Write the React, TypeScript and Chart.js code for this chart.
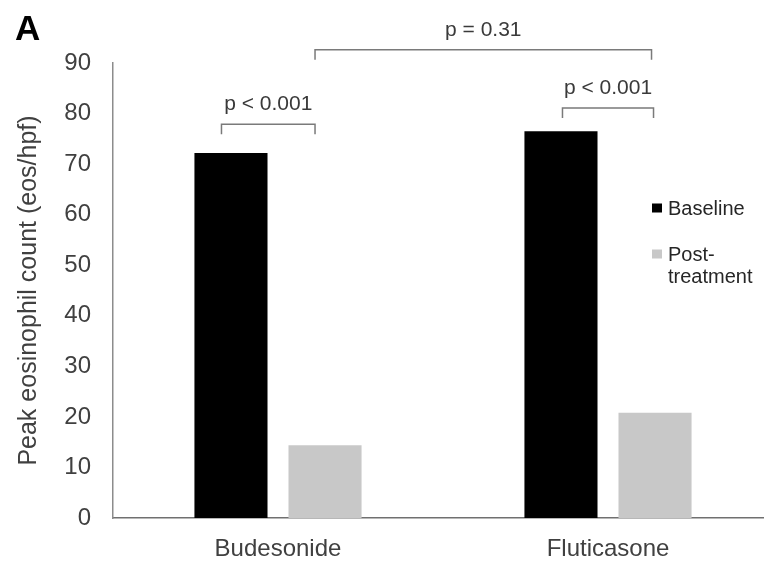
import React, { useEffect, useRef } from "react";
import { Chart, registerables } from "chart.js";

Chart.register(...registerables);

const categories = ["Budesonide", "Fluticasone"];
const seriesNames = ["Baseline", "Post-treatment"];
const baselineValues = [72.2, 76.5];
const postValues = [14.4, 20.8];
const yTicksMax = 90;
const yTickStep = 10;
const yTitle = "Peak eosinophil count (eos/hpf)";
const panelLabel = "A";

// significance brackets: [datasetIndex, categoryIndex] ends, level in data units
const pTexts = ["p < 0.001", "p = 0.31", "p < 0.001"];
const pLevels = [77.9, 92.6, 81.1];
const pFrom = [[0, 0], [1, 0], [0, 1]];
const pTo = [[1, 0], [1, 1], [1, 1]];

const FONT = "'Liberation Sans', Arial, Helvetica, sans-serif";

const overlayPlugin = {
  id: "overlay",
  afterDraw(chart: any) {
    const ctx = chart.ctx;
    const yScale = chart.scales.y;
    ctx.save();
    // panel label
    ctx.fillStyle = "#000";
    ctx.font = `bold 35px ${FONT}`;
    ctx.textAlign = "left";
    ctx.textBaseline = "alphabetic";
    ctx.fillText(panelLabel, 15, 40);

    // brackets
    const dxFrom = [-9.5, -10, 1.5];
    const dxTo = [-10, -3.5, -1.5];
    const drop = 10;
    ctx.strokeStyle = "#7a7a7a";
    ctx.lineWidth = 1.5;
    for (let i = 0; i < pTexts.length; i++) {
      const a = chart.getDatasetMeta(pFrom[i][0]).data[pFrom[i][1]];
      const b = chart.getDatasetMeta(pTo[i][0]).data[pTo[i][1]];
      const x1 = a.x + dxFrom[i];
      const x2 = b.x + dxTo[i];
      const y = yScale.getPixelForValue(pLevels[i]);
      ctx.beginPath();
      ctx.moveTo(x1, y + drop);
      ctx.lineTo(x1, y);
      ctx.lineTo(x2, y);
      ctx.lineTo(x2, y + drop);
      ctx.stroke();
      ctx.fillStyle = "#3a3a3a";
      ctx.font = `21px ${FONT}`;
      ctx.textAlign = "center";
      ctx.textBaseline = "middle";
      ctx.fillText(pTexts[i], (x1 + x2) / 2, y - 20);
    }

    // legend
    const lx = 652;
    const ly = [208, 254];
    ctx.font = `20px ${FONT}`;
    ctx.textAlign = "left";
    ctx.textBaseline = "middle";
    chart.data.datasets.forEach((ds: any, i: number) => {
      ctx.fillStyle = ds.backgroundColor;
      ctx.fillRect(lx, ly[i] - 4.5, 10, 9);
      ctx.fillStyle = "#262626";
      const lines = i === 1 ? ["Post-", "treatment"] : [ds.label];
      lines.forEach((t: string, j: number) => {
        ctx.fillText(t, lx + 16, ly[i] + 1 + j * 22);
      });
    });
    ctx.restore();
  },
};

export default function App() {
  const ref = useRef<HTMLCanvasElement>(null);
  useEffect(() => {
    if (!ref.current) return;
    const chart = new Chart(ref.current, {
      type: "bar",
      data: {
        labels: categories,
        datasets: [
          {
            label: seriesNames[0],
            data: baselineValues,
            backgroundColor: "#000000",
            categoryPercentage: 0.57,
            barPercentage: 0.777,
          },
          {
            label: seriesNames[1],
            data: postValues,
            backgroundColor: "#c8c8c8",
            categoryPercentage: 0.57,
            barPercentage: 0.777,
          },
        ],
      },
      options: {
        animation: false,
        responsive: false,
        layout: { padding: { top: 63, right: 27, left: 0, bottom: 0 } },
        plugins: { legend: { display: false }, tooltip: { enabled: false } },
        scales: {
          x: {
            grid: { display: false, drawTicks: false },
            border: { display: true, color: "#707070", width: 1.5 },
            ticks: {
              color: "#404040",
              font: { family: FONT, size: 24 },
              padding: 17,
            },
            afterFit: (s: any) => {
              s.height = 43;
            },
          },
          y: {
            min: 0,
            max: yTicksMax,
            grid: { display: false, drawTicks: false },
            border: { display: true, color: "#8c8c8c", width: 1.5 },
            ticks: {
              stepSize: yTickStep,
              color: "#404040",
              font: { family: FONT, size: 24 },
              padding: 22,
            },
            title: {
              display: true,
              text: yTitle,
              color: "#404040",
              font: { family: FONT, size: 25 },
              padding: { top: 14, bottom: 0 },
            },
            afterFit: (s: any) => {
              s.width = 113;
            },
          },
        },
      },
      plugins: [overlayPlugin],
    });
    return () => chart.destroy();
  }, []);
  return (
    <div
      style={{
        position: "fixed",
        left: 0,
        top: 0,
        width: 764,
        height: 561,
        overflow: "hidden",
        background: "#fff",
      }}
    >
      <canvas ref={ref} width={800} height={561} style={{ width: 800, height: 561, display: "block" }} />
    </div>
  );
}
